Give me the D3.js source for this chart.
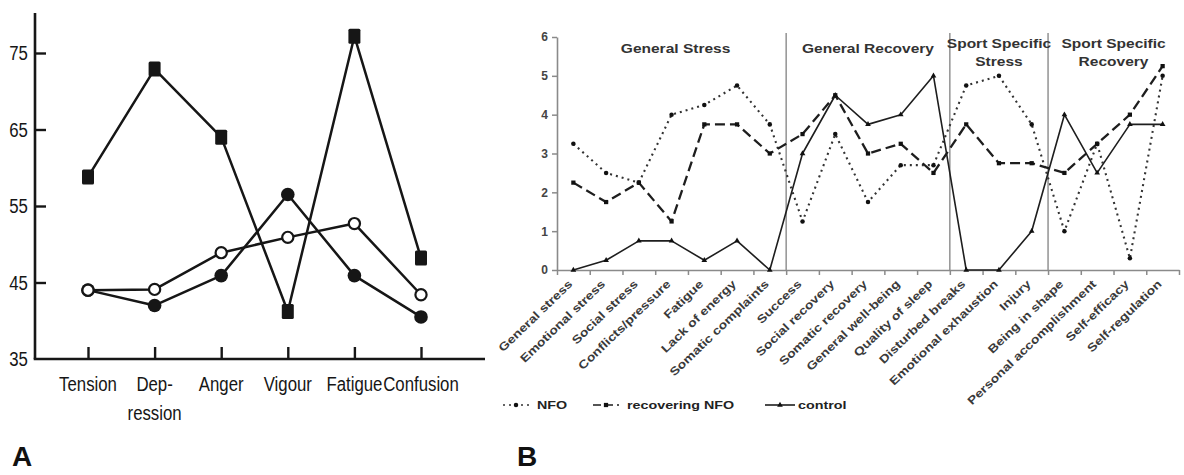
<!DOCTYPE html>
<html>
<head>
<meta charset="utf-8">
<script src="https://cdn.jsdelivr.net/npm/d3@7"></script>
<style>
  html, body { margin: 0; padding: 0; background: #fff; }
  svg { display: block; }
</style>
</head>
<body>
<svg id="fig" width="1184" height="475"></svg>
<script>
// ---------- Panel A: POMS profile ----------
const moodScales = ["Tension", "Depression", "Anger", "Vigour", "Fatigue", "Confusion"];
const moodLabelLines = [["Tension"], ["Dep-", "ression"], ["Anger"], ["Vigour"], ["Fatigue"], ["Confusion"]];
const moodTicks = [35, 45, 55, 65, 75];
const overtrainedScores = [58.8, 72.9, 64.0, 41.2, 77.2, 48.2];   // filled squares
const athleteScores     = [44.0, 42.0, 45.9, 56.5, 45.9, 40.5];   // filled circles
const normScores        = [44.0, 44.1, 48.9, 50.9, 52.7, 43.4];   // open circles

// ---------- Panel B: RESTQ-Sport profile ----------
const restqScales = [
  "General stress", "Emotional stress", "Social stress", "Conflicts/pressure", "Fatigue",
  "Lack of energy", "Somatic complaints", "Success", "Social recovery", "Somatic recovery",
  "General well-being", "Quality of sleep", "Disturbed breaks", "Emotional exhaustion",
  "Injury", "Being in shape", "Personal accomplishment", "Self-efficacy", "Self-regulation"
];
const nfoScores        = [3.25, 2.5, 2.25, 4.0, 4.25, 4.75, 3.75, 1.25, 3.5, 1.75, 2.7, 2.7, 4.75, 5.0, 3.75, 1.0, 3.25, 0.3, 5.0];
const recoveringScores = [2.25, 1.75, 2.25, 1.25, 3.75, 3.75, 3.0, 3.5, 4.5, 3.0, 3.25, 2.5, 3.75, 2.75, 2.75, 2.5, 3.25, 4.0, 5.25];
const controlScores    = [0, 0.25, 0.75, 0.75, 0.25, 0.75, 0, 3.0, 4.5, 3.75, 4.0, 5.0, 0, 0, 1.0, 4.0, 2.5, 3.75, 3.75];
const restqTicks = [0, 1, 2, 3, 4, 5, 6];
const sectionNames = [["General Stress"], ["General Recovery"], ["Sport Specific", "Stress"], ["Sport Specific", "Recovery"]];
const sectionStarts = [0, 7, 12, 15, 19];
const legendNames = ["NFO", "recovering NFO", "control"];

const svg = d3.select("#fig");

// ===== Panel A =====
(function drawA() {
  const ink = "#161616";
  const font = "'Liberation Sans', Arial, sans-serif";
  const narrow = 0.8;   // condensed look for the typewritten labels
  const g = svg.append("g");
  const y = d3.scaleLinear().domain([35, 75]).range([359, 53]);
  const x = d3.scalePoint().domain(moodScales).range([88, 421]);
  const xLeft = 35, xRight = 485, yTop = 13;

  // axis lines
  g.append("line").attr("x1", xLeft).attr("x2", xLeft).attr("y1", yTop).attr("y2", y(35))
    .attr("stroke", ink).attr("stroke-width", 2.6);
  g.append("line").attr("x1", xLeft - 1.3).attr("x2", xRight).attr("y1", y(35)).attr("y2", y(35))
    .attr("stroke", ink).attr("stroke-width", 2.6);

  // y axis ticks (inward) and labels
  const yAxis = d3.axisLeft(y).tickValues(moodTicks).tickSize(-11).tickPadding(9);
  const ya = g.append("g").attr("transform", `translate(${xLeft},0)`).call(yAxis);
  ya.select(".domain").remove();
  ya.selectAll(".tick line").attr("stroke", ink).attr("stroke-width", 2.4);
  ya.selectAll(".tick text").attr("fill", ink).attr("font-family", font).attr("font-size", 21)
    .attr("transform", `scale(${narrow},1)`);
  ya.selectAll(".tick").filter(d => d === 35).select("line").remove();

  // x axis ticks (inward)
  const xAxis = d3.axisBottom(x).tickSize(-12).tickFormat("");
  const xa = g.append("g").attr("transform", `translate(0,${y(35)})`).call(xAxis);
  xa.select(".domain").remove();
  xa.selectAll(".tick line").attr("stroke", ink).attr("stroke-width", 2.4);

  // category labels
  moodScales.forEach((c, i) => {
    const t = g.append("text").attr("transform", `translate(${x(c)},391) scale(${narrow},1)`)
      .attr("text-anchor", "middle").attr("fill", ink)
      .attr("font-family", font).attr("font-size", 21);
    moodLabelLines[i].forEach((ln, k) => {
      t.append("tspan").attr("x", 0).attr("y", k * 29).text(ln);
    });
  });

  const line = d3.line().x((d, i) => x(moodScales[i])).y(d => y(d));
  [overtrainedScores, athleteScores, normScores].forEach(s => {
    g.append("path").datum(s).attr("d", line).attr("fill", "none")
      .attr("stroke", ink).attr("stroke-width", 2.5).attr("stroke-linejoin", "round");
  });

  // markers
  g.selectAll("rect.sq").data(overtrainedScores).join("rect").attr("class", "sq")
    .attr("x", (d, i) => x(moodScales[i]) - 6).attr("y", d => y(d) - 7.5)
    .attr("width", 12).attr("height", 15).attr("rx", 1.5).attr("fill", ink);
  g.selectAll("circle.fc").data(athleteScores).join("circle").attr("class", "fc")
    .attr("cx", (d, i) => x(moodScales[i])).attr("cy", d => y(d)).attr("r", 6.8).attr("fill", ink);
  g.selectAll("circle.oc").data(normScores).join("circle").attr("class", "oc")
    .attr("cx", (d, i) => x(moodScales[i])).attr("cy", d => y(d)).attr("r", 5.6)
    .attr("fill", "#fff").attr("stroke", ink).attr("stroke-width", 2.2);

  // panel letter
  svg.append("text").attr("x", 12).attr("y", 466).text("A")
    .attr("font-family", "'Liberation Sans', Arial, sans-serif").attr("font-weight", "bold")
    .attr("font-size", 28).attr("fill", "#111");
})();

// ===== Panel B =====
(function drawB() {
  const grey = "#8a8a8a";
  const font = "'Liberation Sans', Arial, sans-serif";
  const g = svg.append("g");
  const x0 = 557, x1 = 1179;
  const y = d3.scaleLinear().domain([0, 6]).range([270, 37]);
  const x = d3.scaleBand().domain(restqScales).range([x0, x1]).padding(0);
  const bw = x.bandwidth();
  const edge = d3.scaleLinear().domain([0, restqScales.length]).range([x0, x1]);
  const cx = (i) => x(restqScales[i]) + bw / 2;

  // y axis
  const ya = g.append("g").attr("transform", `translate(${x0},0)`)
    .call(d3.axisLeft(y).tickValues(restqTicks).tickFormat(d3.format("d"))
      .tickSize(5).tickPadding(4).tickSizeOuter(0));
  ya.select(".domain").attr("stroke", grey).attr("stroke-width", 1.6);
  ya.selectAll(".tick line").attr("stroke", grey).attr("stroke-width", 1.5);
  ya.selectAll(".tick text").attr("fill", "#444").attr("font-family", font)
    .attr("font-weight", "bold").attr("font-size", 12);

  // x axis with ticks at category boundaries
  const xa = g.append("g").attr("transform", `translate(0,${y(0)})`)
    .call(d3.axisBottom(edge).tickValues(d3.range(0, restqScales.length + 1)).tickSize(5).tickFormat("").tickSizeOuter(0));
  xa.select(".domain").attr("stroke", grey).attr("stroke-width", 1.6);
  xa.selectAll(".tick line").attr("stroke", grey).attr("stroke-width", 1.5);

  // section dividers
  sectionStarts.slice(1, -1).forEach(s => {
    g.append("line").attr("x1", edge(s)).attr("x2", edge(s)).attr("y1", 33).attr("y2", y(0))
      .attr("stroke", grey).attr("stroke-width", 1.4);
  });

  // section titles
  sectionNames.forEach((lines, k) => {
    const mid = (edge(sectionStarts[k]) + edge(sectionStarts[k + 1])) / 2 + (k === 0 ? 4 : 0);
    lines.forEach((ln, j) => {
      const yy = lines.length === 1 ? 53 : 48 + j * 18;
      g.append("text").attr("transform", `translate(${mid},${yy}) scale(1.15,1)`)
        .attr("text-anchor", "middle").attr("font-family", font).attr("font-weight", "bold")
        .attr("font-size", 13.5).attr("fill", "#333").text(ln);
    });
  });

  // category labels
  restqScales.forEach((c, i) => {
    g.append("text")
      .attr("transform", `translate(${cx(i) - 3},${y(0) + 12}) rotate(-44) scale(1.22,1)`)
      .attr("text-anchor", "end").attr("dy", "0.35em")
      .attr("font-family", font).attr("font-weight", "bold").attr("font-size", 11.5)
      .attr("fill", "#3a3a3a").text(c);
  });

  const line = d3.line().x((d, i) => cx(i)).y(d => y(d));
  const styles = [
    { data: nfoScores, dash: "2,4", w: 2.1, color: "#333" },
    { data: recoveringScores, dash: "10,5", w: 2.3, color: "#1e1e1e" },
    { data: controlScores, dash: null, w: 1.6, color: "#1e1e1e" }
  ];
  styles.forEach(s => {
    g.append("path").datum(s.data).attr("d", line).attr("fill", "none")
      .attr("stroke", s.color).attr("stroke-width", s.w)
      .attr("stroke-dasharray", s.dash).attr("stroke-linejoin", "round");
  });

  // markers
  const sym = [d3.symbolCircle, d3.symbolSquare, d3.symbolTriangle];
  const sz = [16, 18, 14];
  styles.forEach((s, k) => {
    g.selectAll(null).data(s.data).join("path")
      .attr("transform", (d, i) => `translate(${cx(i)},${y(d)})`)
      .attr("d", d3.symbol().type(sym[k]).size(sz[k])).attr("fill", "#111");
  });

  // legend
  const legY = 405;
  const legItems = [
    { x: 503, len: 26, text: 537 },
    { x: 593, len: 26, text: 627 },
    { x: 765, len: 30, text: 798 }
  ];
  legItems.forEach((it, k) => {
    g.append("line").attr("x1", it.x).attr("x2", it.x + it.len).attr("y1", legY).attr("y2", legY)
      .attr("stroke", styles[k].color).attr("stroke-width", 1.6)
      .attr("stroke-dasharray", k === 0 ? "2,4" : (k === 1 ? "8,4" : null));
    g.append("path").attr("transform", `translate(${it.x + it.len / 2},${legY})`)
      .attr("d", d3.symbol().type(sym[k]).size(sz[k])).attr("fill", "#111");
    g.append("text").attr("transform", `translate(${it.text},${legY + 4}) scale(1.3,1)`)
      .attr("font-family", font).attr("font-weight", "bold").attr("font-size", 11)
      .attr("fill", "#222").text(legendNames[k]);
  });

  svg.append("text").attr("x", 517).attr("y", 466).text("B")
    .attr("font-family", font).attr("font-weight", "bold")
    .attr("font-size", 28).attr("fill", "#111");
})();
</script>
</body>
</html>
